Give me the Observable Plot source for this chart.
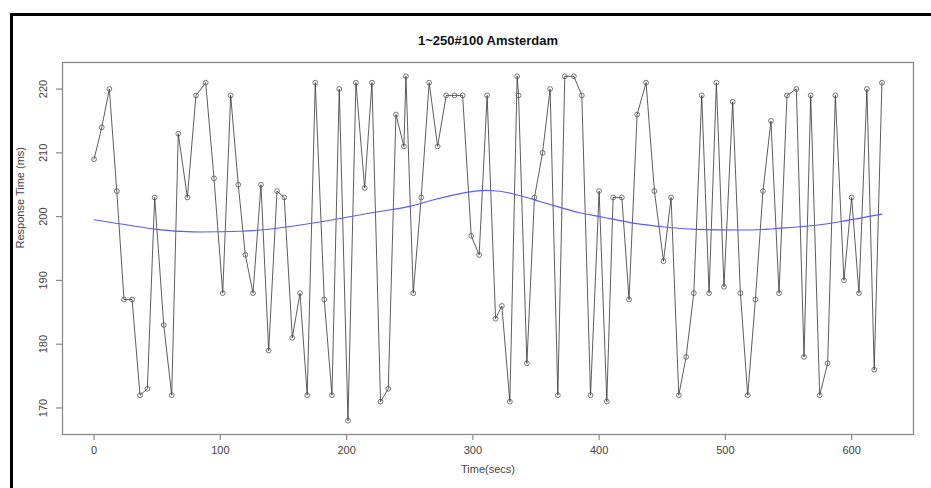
<!DOCTYPE html>
<html>
<head>
<meta charset="utf-8">
<script src="https://cdn.jsdelivr.net/npm/d3@7"></script>
<script src="https://cdn.jsdelivr.net/npm/@observablehq/plot@0.6"></script>
<style>
  html, body { margin: 0; padding: 0; background: #fff; }
  #wrap { position: relative; width: 931px; height: 488px; overflow: hidden; }
  #frame { position: absolute; left: 10px; top: 13px; width: 1000px; height: 600px;
           border-top: 3px solid #000; border-left: 3px solid #000; pointer-events: none; }
</style>
</head>
<body>
<div id="wrap"><div id="frame"></div></div>
<script>
const title = "1~250#100 Amsterdam";
const xLabel = "Time(secs)";
const yLabel = "Response Time (ms)";

const times = [0, 6.1, 12.1, 18.0, 23.7, 30.1, 36.4, 42.2, 48.0, 55.2, 61.5, 66.7, 73.9, 80.7, 88.4, 95.0, 101.9, 108.2, 114.2, 119.8,
  125.9, 132.2, 138.3, 144.9, 150.6, 157.0, 163.1, 168.8, 175.2, 182.3, 188.4, 194.2, 201.1, 207.4, 214.3, 220.1, 226.9, 233.0, 239.1, 245.4,
  247.0, 252.8, 259.1, 265.4, 272.1, 278.9, 285.5, 291.9, 298.7, 305.0, 311.3, 318.0, 323.0, 329.3, 335.1, 336.2, 342.8, 348.8, 355.2, 361.2,
  367.3, 372.8, 380.0, 386.3, 393.2, 400.0, 406.1, 411.1, 418.0, 423.7, 430.1, 437.2, 443.8, 451.0, 457.0, 463.1, 468.9, 475.0, 481.3, 487.1,
  492.9, 498.9, 505.8, 511.9, 517.7, 523.8, 529.8, 536.1, 542.5, 548.8, 556.2, 562.3, 567.6, 574.7, 581.0, 587.1, 593.9, 600.0, 605.8, 612.1,
  617.9, 624.0];
const responseTimes = [209, 214, 220, 204, 187, 187, 172, 173, 203, 183, 172, 213, 203, 219, 221, 206, 188, 219, 205, 194,
  188, 205, 179, 204, 203, 181, 188, 172, 221, 187, 172, 220, 168, 221, 204.5, 221, 171, 173, 216, 211,
  222, 188, 203, 221, 211, 219, 219, 219, 197, 194, 219, 184, 186, 171, 222, 219, 177, 203, 210, 220,
  172, 222, 222, 219, 172, 204, 171, 203, 203, 187, 216, 221, 204, 193, 203, 172, 178, 188, 219, 188,
  221, 189, 218, 188, 172, 187, 204, 215, 188, 219, 220, 178, 219, 172, 177, 219, 190, 203, 188, 220,
  176, 221];

const smoothTimes = [0, 49.6, 78.6, 115.6, 141.7, 173.4, 200, 226.4, 250.1, 268.3, 295, 313.5, 329.3, 347.5, 366.3, 384.7, 403.2, 429.6, 455.9, 477.1, 519.3, 537.7, 564.1, 590.5, 624];
const smoothValues = [199.5, 198.0, 197.6, 197.7, 198.1, 199.0, 199.9, 200.8, 201.6, 202.6, 203.8, 204.1, 203.7, 202.7, 201.6, 200.6, 199.9, 198.9, 198.3, 198.0, 197.9, 198.1, 198.5, 199.2, 200.4];

const xTicks = [0, 100, 200, 300, 400, 500, 600];
const yTicks = [170, 180, 190, 200, 210, 220];

const series = times.map((t, i) => ({t, v: responseTimes[i]}));
const smooth = smoothTimes.map((t, i) => ({t, v: smoothValues[i]}));

const font = "'Liberation Sans Narrow', 'Liberation Sans', Arial, sans-serif";
const gray = "#8a8a8a";
const textColor = "#444";

const chart = Plot.plot({
  width: 931,
  height: 488,
  marginLeft: 62,
  marginRight: 18,
  marginTop: 62,
  marginBottom: 54,
  style: {fontFamily: font, fontSize: "11px", background: "transparent", overflow: "visible"},
  x: {domain: [-25, 649], ticks: xTicks, label: null},
  y: {domain: [165.84, 224.16], ticks: yTicks, label: null},
  marks: [
    Plot.frame({stroke: gray, strokeWidth: 1.3}),
    Plot.axisX({ticks: xTicks, tickSize: 6, tickPadding: 6, stroke: gray, strokeWidth: 1.2, color: textColor, fill: textColor, fontSize: 11, label: null}),
    Plot.axisY({ticks: yTicks, tickSize: 6, tickFormat: () => "", stroke: gray, strokeWidth: 1.2, label: null}),
    Plot.text(yTicks, {y: d => d, text: d => String(d), frameAnchor: "left", dx: -19, rotate: -90, textAnchor: "middle", lineAnchor: "middle", fill: textColor, fontSize: 11}),
    Plot.line(series, {x: "t", y: "v", stroke: "#333", strokeWidth: 0.8}),
    Plot.dot(series, {x: "t", y: "v", r: 2.4, stroke: "#555", strokeWidth: 0.8, fill: "none"}),
    Plot.line(smooth, {x: "t", y: "v", stroke: "#5a5aff", strokeWidth: 1.1, curve: "natural"}),
    Plot.text([title], {frameAnchor: "top", dy: -22, text: d => d, fontWeight: "bold", fontSize: 13, fill: "#111", lineAnchor: "middle"}),
    Plot.text([xLabel], {frameAnchor: "bottom", dy: 35, text: d => d, fontSize: 11, fill: textColor, lineAnchor: "middle"}),
    Plot.text([yLabel], {frameAnchor: "left", dx: -42, text: d => d, rotate: -90, fontSize: 11, fill: textColor, lineAnchor: "middle"})
  ]
});
document.getElementById("wrap").insertBefore(chart, document.getElementById("frame"));
</script>
</body>
</html>
